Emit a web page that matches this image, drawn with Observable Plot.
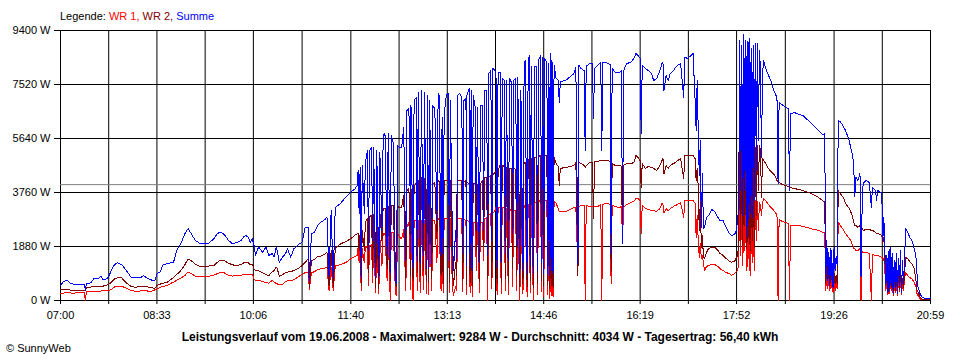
<!DOCTYPE html>
<html><head><meta charset="utf-8">
<script src="https://cdn.jsdelivr.net/npm/d3@7"></script>
<script src="https://cdn.jsdelivr.net/npm/@observablehq/plot@0.6"></script>
<style>
body{margin:0;background:#fff;}
#wrap{position:relative;width:960px;height:360px;font-family:"Liberation Sans",Arial,sans-serif;font-size:11px;line-height:13px;color:#000;}
#wrap svg{display:block;}
#legend{position:absolute;left:60px;top:10px;white-space:nowrap;}
#title{position:absolute;left:0;width:960px;text-align:center;top:330px;font-weight:bold;font-size:12px;line-height:14px;white-space:nowrap;}
#copy{position:absolute;left:6px;top:342px;white-space:nowrap;}
</style></head><body>
<div id="wrap">
<div id="legend">Legende: <span style="color:#ff0000">WR 1,</span> <span style="color:#800000">WR 2,</span> <span style="color:#0000ff">Summe</span></div>
<div id="title">Leistungsverlauf vom 19.06.2008 - Maximalwert: 9284 W - Durchschnitt: 4034 W - Tagesertrag: 56,40 kWh</div>
<div id="copy">© SunnyWeb</div>
</div>
<script>
const tickLabels = ["07:00","08:33","10:06","11:40","13:13","14:46","16:19","17:52","19:26","20:59"];
const yTicks = [0,1880,3760,5640,7520,9400];
const average = 4034;
// minutes after 07:00
const minutes = [
0,3,6,10,14,19,23,24,25,29,
32,36,39,41,43,46,49,52,55,59,
62,65,68,72,77,80,84,88,91,93,
96,99,103,106,109,112,116,120,123,126,
130,134,138,143,148,151,154,158,162,166,
170,174,177,179,181,183,185,187,188,191,
195,198,201,204,206,208,209,211,214,217,
219,222,225,227,230,233,236,239,240,242,
245,248,251,255,257,259,261,263,265,270,
275,280,284,286,287,288,289,290,291,293,
294,296,297,298,300,301,302,304,305,307,
308,310,311,312,313,315,316,318,319,321,
323,324,325,327,329,331,333,334,336,338,
338,340,341,343,344,345,347,348,350,351,
353,354,355,356,358,359,361,363,364,365,
367,368,369,370,372,374,375,376,378,379,
381,382,383,385,387,388,389,391,392,392,
394,395,396,397,398,400,401,402,404,405,
407,408,409,411,412,413,415,416,417,419,
420,421,422,424,425,426,428,429,430,432,
433,435,436,437,439,440,441,443,444,446,
447,448,450,451,452,453,454,456,457,459,
460,461,463,464,465,466,467,469,470,471,
472,473,474,474,475,476,478,480,481,482,
487,492,495,497,499,500,502,505,506,507,
510,513,514,515,518,521,522,523,526,528,
530,531,532,535,539,541,542,543,546,550,
553,555,557,559,560,561,564,567,570,572,
575,578,580,581,582,584,586,588,591,593,
595,598,601,602,605,608,610,612,613,614,
615,616,617,618,619,620,621,623,625,628,
631,634,636,639,642,645,647,650,652,653,
654,655,656,657,658,659,660,661,662,663,
663,664,665,666,667,668,669,670,671,672,
673,674,675,676,677,678,680,682,685,688,
690,691,692,693,696,699,702,703,704,708,
712,716,719,723,727,731,735,737,738,739,
740,741,742,743,744,744,745,746,747,748,
749,750,752,755,757,760,762,764,765,766,
767,769,770,771,772,773,774,777,780,782,
783,786,787,788,791,792,793,794,795,796,
797,798,799,799,800,801,802,803,804,805,
806,807,808,809,810,811,812,813,814,815,
817,819,821,823,825,826,827,829,831,834,
837,839];
const wr1 = [
240,260,280,260,260,280,280,0,310,320,
320,320,330,340,350,350,380,470,500,500,
450,400,350,320,330,350,330,320,370,400,
460,490,520,590,640,700,780,870,990,940,
850,820,820,840,890,930,970,960,870,850,
870,870,910,920,920,910,910,720,710,700,
660,630,600,700,640,590,580,540,560,660,
680,700,720,770,840,910,970,990,380,960,
1010,1070,1100,1130,1150,350,1170,350,1200,1250,
1320,1450,1530,1570,1850,1320,1810,350,1810,1320,
1880,1850,520,1910,1950,630,1980,280,2090,240,
2160,1220,2260,2330,2300,700,2330,0,2370,2370,
240,170,2370,2190,2160,2470,350,2540,2720,350,
2780,0,2780,2780,350,2780,280,2780,380,2780,
240,2780,210,2750,350,2780,2780,1320,2820,2850,
350,2850,280,2850,2850,2850,280,2850,420,170,
490,350,2850,2850,2850,310,2820,2780,210,2780,
2750,280,2720,140,2720,2720,1040,2720,280,2720,
2720,1390,2850,2890,0,2990,3030,420,3030,3130,
3240,210,3240,3240,240,3240,3240,350,3200,210,
3170,3130,490,3130,3130,350,3130,0,3200,240,
3270,3310,140,3310,3380,280,3380,0,3410,3410,
210,3450,3480,310,3480,140,3480,3480,210,3480,
70,3480,170,3480,140,3450,3380,3200,3100,3100,
3100,3170,3240,3240,1040,3270,3310,3310,0,3310,
3270,3270,3270,3270,3270,3340,0,3340,3380,3380,
3340,590,3310,3270,3240,3270,2090,3240,3340,3410,
3450,3550,3550,3480,2330,3310,3200,3170,3130,3130,
3100,3200,3380,3340,3060,3200,3130,3200,3270,3310,
3340,3410,2890,3480,3480,3480,3480,3380,2190,2960,
2090,1500,1980,1460,1570,1320,1040,1180,1220,1250,
1250,1180,1110,1040,970,940,870,940,1010,1040,
1320,3480,1570,3550,1220,3620,1740,3620,1040,3590,
1390,3550,870,3480,1320,3480,1040,3480,2090,3450,
2440,3410,3310,2960,3380,3550,3480,3380,3240,3130,
3030,2890,0,2820,2750,2720,2680,0,2610,2610,
2610,2580,2550,2510,2470,2440,2380,2380,350,1040,
420,870,350,770,450,940,280,840,350,630,
420,2730,2610,2470,2330,2190,2090,1910,1810,1810,
1740,1740,1780,1810,0,1710,1680,1670,1640,0,
1600,1570,1570,1570,1530,1500,1460,1430,1040,350,
770,210,700,240,870,350,770,170,590,280,
730,170,660,310,700,210,590,350,730,990,
870,800,750,660,460,240,170,60,20,20,
20,20];
const wr2 = [
380,400,400,350,330,350,350,350,450,470,
480,490,490,500,520,560,630,750,790,790,
660,570,490,460,490,500,470,440,430,520,
570,600,640,720,800,900,1040,1250,1450,1390,
1270,1200,1200,1200,1220,1320,1410,1390,1300,1240,
1220,1250,1320,1330,1310,1250,1250,1070,1060,1030,
970,900,870,990,1040,1160,1110,840,900,970,
990,1010,1040,1080,1130,1220,1330,1450,460,1390,
1430,1530,1550,1620,1670,520,1740,490,1830,1970,
2050,2150,2280,2320,2330,1740,2370,520,2440,1740,
2720,2850,970,2920,2960,1040,2990,450,3060,420,
3060,2090,3130,3200,3200,1110,3270,700,3310,3310,
520,490,3270,3240,3240,3660,770,3830,3900,870,
3900,700,3970,4110,970,4180,870,4280,1040,4250,
700,4180,630,4110,770,4070,4110,2160,4140,4180,
870,4140,590,4180,4180,4180,630,4180,1040,520,
1320,870,4180,4180,4180,700,4140,4180,560,4110,
4070,630,4070,490,4070,4070,1740,4040,660,4070,
4180,1910,4280,4280,770,4320,4350,800,4390,4460,
4490,590,4530,4730,630,4700,4670,770,4630,630,
4600,4600,1110,4600,4560,870,4530,490,4700,590,
4800,4800,490,4870,4940,700,4940,450,4980,4980,
590,5010,5050,700,5050,490,5050,5050,560,5050,
420,5050,520,5010,450,4980,4770,4670,4000,4600,
4630,4670,4700,4800,870,4800,4770,4700,4630,4700,
4800,4800,2850,4840,4840,4870,4870,4870,4870,4870,
4840,1040,4770,4700,4700,4670,1980,4700,4770,4770,
4800,5050,4980,4870,3930,4770,4600,4670,4630,4600,
4530,4700,4870,4940,4420,4700,4600,4700,4770,4800,
4870,4940,4250,5050,5050,5050,5050,4940,4180,4600,
3970,2440,3480,1850,2260,1530,1460,1670,1810,1850,
1850,1740,1640,1570,1460,1360,1330,1360,1500,1570,
1980,5400,2090,5470,1910,5500,2610,5470,1810,5470,
2090,5400,1740,5400,2090,5360,1850,5330,2960,5400,
3830,5400,5220,3590,4940,4870,4770,4630,4490,4390,
4280,4180,4110,4110,4040,4000,3970,3970,3930,3900,
3860,3830,3790,3740,3660,3590,3480,3420,590,1320,
700,1040,560,970,700,1110,520,940,590,870,
590,3830,3720,3590,3380,3240,3100,2900,2710,2610,
2610,2550,2580,2610,940,2510,2440,2470,2470,2440,
2440,2380,2330,2330,2300,2260,1980,2190,1390,520,
1040,280,1040,350,1110,450,1040,240,870,350,
970,240,970,380,1040,280,770,450,940,1510,
1450,1360,1280,1160,700,350,290,110,50,50,
50,50];
const summe = [
520,660,710,590,560,560,560,350,590,610,
750,760,840,730,730,800,1040,1250,1310,1250,
1110,970,810,790,790,870,770,710,700,930,
990,1250,1280,1310,1330,1740,1970,2330,2500,2330,
2090,2000,1970,2000,2150,2320,2380,2300,2090,1970,
2020,2090,2230,2260,2200,2030,2150,1860,1570,1860,
1680,1860,1570,1630,1510,1860,1740,1330,1510,1630,
1800,1510,1800,1860,1970,2030,2550,2550,700,2330,
2380,2610,2720,2820,2900,810,3130,810,3240,3380,
3590,3770,3890,4000,4530,3030,4630,800,4700,3030,
4770,5220,1740,5220,5330,2090,5330,800,5220,800,
5150,2440,5220,5810,5740,1640,5810,940,5740,5470,
700,590,5400,5330,5330,6020,1390,6610,6680,1640,
6790,1150,6960,7070,1390,7240,1290,7310,1570,7240,
1110,7140,1150,6960,1290,6790,6680,2780,6610,7210,
1570,6370,1640,6440,7140,7210,1390,6960,2090,1040,
2440,1460,7140,7210,7070,1640,6960,7030,1220,7140,
7380,1150,7310,1040,7140,6720,2440,6720,1320,6790,
6790,2440,7310,7310,1570,7900,8000,2090,8080,8000,
7760,1150,7940,7940,1320,7730,7660,1640,7660,1390,
7730,7590,2330,7660,7730,1910,7760,940,7310,1040,
7490,8360,940,8290,8530,1220,8150,940,8150,8150,
1040,8360,8530,1320,8460,940,8430,8290,940,8250,
870,8600,1040,8290,940,8180,7730,7660,6890,7620,
7660,7800,7900,8110,1290,8180,8080,8000,5220,8150,
8250,8250,6340,8080,8180,8290,5220,8290,8290,8250,
8220,1640,8080,7940,7940,8000,1980,8000,8250,8290,
8430,8600,8530,8430,5810,8180,8080,8000,7900,7660,
7730,8000,8250,8290,7310,7830,7660,7900,8000,8110,
8180,8250,7070,8460,8430,8530,8600,6960,5920,7660,
5920,4350,5570,2540,4420,2510,2550,2890,2960,3170,
3100,2890,2780,2780,2540,2330,2260,2300,2440,2890,
3130,9050,3830,8880,2960,9280,3830,9050,2230,9050,
2680,9120,3030,8770,2890,8880,3480,8950,4530,8950,
5570,8700,8110,4980,7830,8360,8080,7900,7660,7310,
7140,6960,4070,6890,6820,6720,6680,3830,6510,6540,
6480,6440,6340,6200,6060,5920,5780,5810,940,2090,
700,1670,520,1810,870,1320,450,1850,1040,1530,
1220,6260,6230,6060,5920,5640,5340,5050,4600,3600,
4290,4180,4280,4420,810,3130,4070,4180,4110,3250,
3940,3830,3480,3830,3770,3760,2090,2900,1740,590,
1570,280,1740,420,1850,520,1640,240,1390,450,
1640,240,1460,520,1740,280,1390,590,1500,2500,
2380,2200,2090,1860,1510,930,460,230,110,60,
60,100];

const rows = minutes.map((t, i) => ({t, wr1: wr1[i], wr2: wr2[i], summe: summe[i]}));
const toMin = s => { const [h, m] = s.split(":").map(Number); return h * 60 + m - 420; };
const labelMin = tickLabels.map(toMin);
const midMin = d3.pairs(labelMin, (a, b) => (a + b) / 2);
const gridMin = [...labelMin, ...midMin].sort((a, b) => a - b);

const lineOpts = {x: "t", strokeWidth: 1, shapeRendering: "crispEdges"};
const chart = Plot.plot({
  width: 960, height: 360,
  marginLeft: 60, marginRight: 30, marginTop: 30, marginBottom: 60,
  style: {fontFamily: "'Liberation Sans', Arial, sans-serif", fontSize: "11px", background: "white", color: "black"},
  x: {domain: [0, 839], axis: null},
  y: {domain: [0, 9400], axis: null},
  marks: [
    Plot.ruleY(yTicks, {stroke: "black", strokeWidth: 1}),
    Plot.ruleX(gridMin, {stroke: "black", strokeWidth: 1}),
    Plot.ruleY([average], {stroke: "#808080", strokeWidth: 1}),
    Plot.line(rows, {...lineOpts, y: "wr1", stroke: "#ff0000"}),
    Plot.line(rows, {...lineOpts, y: "wr2", stroke: "#800000"}),
    Plot.line(rows, {...lineOpts, y: "summe", stroke: "#0000ff"}),
    Plot.axisY(yTicks, {tickSize: 6, tickPadding: 4, tickFormat: d => `${d} W`, label: null}),
    Plot.axisX(labelMin, {tickSize: 4, tickPadding: 7, tickFormat: d => tickLabels[labelMin.indexOf(d)], label: null}),
    Plot.axisX(midMin, {tickSize: 4, tickFormat: () => "", label: null})
  ]
});
document.getElementById("wrap").prepend(chart);
</script>
</body></html>
